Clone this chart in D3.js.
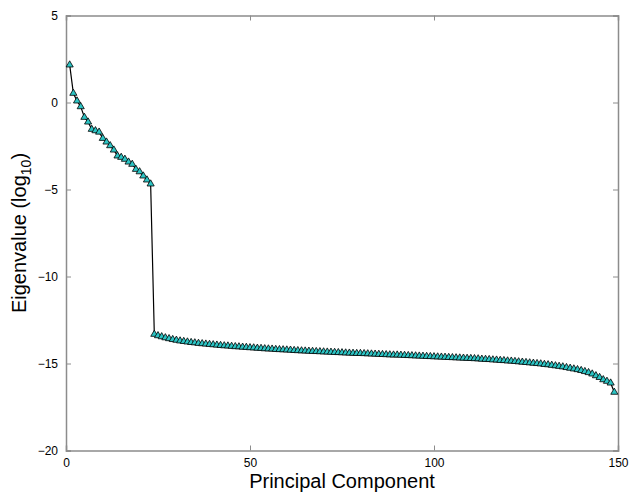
<!DOCTYPE html>
<html>
<head>
<meta charset="utf-8">
<script src="https://cdn.jsdelivr.net/npm/d3@7"></script>
<style>
  body { margin: 0; background: #fff; }
  svg { font-family: "Liberation Sans", Arial, Helvetica, sans-serif; }
</style>
</head>
<body>
<div id="chart"></div>
<script>
// eigenvalues (log10), components 1..149
const headValues = [2.16, 0.53, 0.09, -0.24, -0.85, -1.12, -1.54, -1.62, -1.70, -2.06,
  -2.27, -2.48, -2.73, -3.07, -3.15, -3.26, -3.42, -3.55, -3.84, -3.98,
  -4.22, -4.45, -4.68];
const tailValues = [-13.32, -13.40, -13.46, -13.52, -13.57, -13.62, -13.66, -13.70, -13.73, -13.76,
  -13.79, -13.81, -13.84, -13.86, -13.88, -13.90, -13.92, -13.94, -13.96, -13.98,
  -13.99, -14.01, -14.03, -14.04, -14.06, -14.07, -14.09, -14.10, -14.12, -14.13,
  -14.15, -14.16, -14.17, -14.19, -14.20, -14.21, -14.22, -14.23, -14.25, -14.26,
  -14.27, -14.28, -14.29, -14.30, -14.31, -14.32, -14.33, -14.34, -14.35, -14.36,
  -14.37, -14.38, -14.39, -14.40, -14.41, -14.42, -14.42, -14.43, -14.44, -14.45,
  -14.46, -14.47, -14.48, -14.49, -14.50, -14.51, -14.51, -14.52, -14.53, -14.54,
  -14.55, -14.56, -14.57, -14.58, -14.59, -14.60, -14.61, -14.62, -14.63, -14.64,
  -14.65, -14.66, -14.67, -14.68, -14.69, -14.70, -14.71, -14.72, -14.73, -14.75,
  -14.76, -14.77, -14.79, -14.80, -14.82, -14.83, -14.85, -14.86, -14.88, -14.90,
  -14.92, -14.94, -14.96, -14.98, -15.00, -15.02, -15.05, -15.07, -15.10, -15.13,
  -15.16, -15.19, -15.23, -15.27, -15.31, -15.35, -15.40, -15.46, -15.52, -15.60,
  -15.70, -15.80, -15.93, -16.02, -16.12, -16.65];
const xTicks = [0, 50, 100, 150];
const yTicks = [5, 0, -5, -10, -15, -20];

const values = headValues.concat(tailValues);
const points = values.map((v, i) => ({x: i + 1, y: v}));

const width = 630, height = 497;
const margin = {top: 15.5, right: 12, bottom: 46.5, left: 66};
const innerW = width - margin.left - margin.right,
    innerH = height - margin.top - margin.bottom;

const svg = d3.select("#chart").append("svg")
  .attr("width", width)
  .attr("height", height);

const g = svg.append("g")
  .attr("transform", "translate(" + margin.left + "," + margin.top + ")");

const x = d3.scaleLinear().domain([0, 150]).range([0, innerW]);
const y = d3.scaleLinear().domain([-20, 5]).range([innerH, 0]);

// axes, ticks pointing inward (matlab style)
const axisColor = "#8c8c8c";
const gx = g.append("g").attr("transform", "translate(0," + innerH + ")")
  .call(d3.axisBottom(x).tickValues(xTicks).tickSize(-5).tickPadding(8).tickFormat(d3.format("d")));
const gy = g.append("g")
  .call(d3.axisLeft(y).tickValues(yTicks).tickSize(-5).tickPadding(8).tickFormat(d3.format("d")));
const gxTop = g.append("g")
  .call(d3.axisTop(x).tickValues(xTicks).tickSize(-5).tickFormat(""));
const gyRight = g.append("g").attr("transform", "translate(" + innerW + ",0)")
  .call(d3.axisRight(y).tickValues(yTicks).tickSize(-5).tickFormat(""));

[gx, gy, gxTop, gyRight].forEach(a => {
  a.select(".domain").attr("stroke", axisColor).attr("stroke-width", 1.5);
  a.selectAll(".tick line").attr("stroke", axisColor);
  a.selectAll(".tick text").attr("fill", "#000").style("font-size", "12px");
});
gy.selectAll(".tick text").attr("dy", "0.35em");

// line
const line = d3.line().x(d => x(d.x)).y(d => y(d.y));
g.append("path")
  .datum(points)
  .attr("fill", "none")
  .attr("stroke", "#000")
  .attr("stroke-width", 1.2)
  .attr("d", line);

// triangle markers
const tri = d3.symbol().type(d3.symbolTriangle).size(22);
g.append("g").selectAll("path")
  .data(points)
  .join("path")
  .attr("transform", d => "translate(" + x(d.x) + "," + y(d.y) + ")")
  .attr("d", tri)
  .attr("fill", "#2cc4c4")
  .attr("stroke", "#000")
  .attr("stroke-width", 0.8);

// axis labels
svg.append("text")
  .attr("x", margin.left + innerW / 2)
  .attr("y", 488)
  .attr("text-anchor", "middle")
  .style("font-size", "20px")
  .text("Principal Component");

const yl = svg.append("text")
  .attr("transform", "translate(26," + (margin.top + innerH / 2) + ") rotate(-90)")
  .attr("text-anchor", "middle")
  .style("font-size", "20px");
yl.append("tspan").text("Eigenvalue (log");
yl.append("tspan").attr("dy", 5).style("font-size", "14px").text("10");
yl.append("tspan").attr("dy", -5).text(")");
</script>
</body>
</html>
